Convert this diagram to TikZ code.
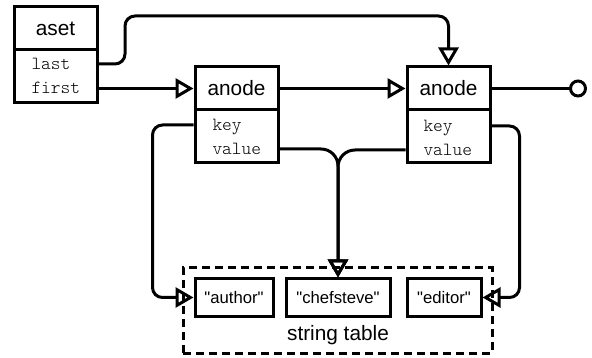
\documentclass[tikz,border=0pt]{standalone}
\usepackage{fontspec}
\setmainfont{Liberation Sans}
\newfontfamily\strfont{Liberation Sans}
\newfontfamily\codefont{Latin Modern Mono Light}
\usetikzlibrary{arrows.meta}

\begin{document}
\begin{tikzpicture}[x=1pt, y=-1pt, line width=3pt,
  head/.style={draw, inner sep=0pt, minimum width=83pt, minimum height=43pt, font=\fontsize{20.8}{24}\selectfont},
  body/.style={draw, inner sep=0pt, minimum width=83pt, minimum height=53pt},
  row/.style={anchor=west, inner sep=0pt, text height=11pt, text depth=0pt, font=\codefont\fontsize{18.5}{20}\selectfont},
  str/.style={draw, inner sep=0pt, minimum height=37pt, font=\strfont\fontsize{16.7}{20}\selectfont},
  link/.style={rounded corners=10pt},
  ptr/.style={-{Triangle[open, length=18pt, width=20pt]}}]
\useasboundingbox (0,0) rectangle (592,358);

% the set and its two nodes
\node[head] (aset) at (55.5,28.5) {aset};
\node[body] (asetb) at (55.5,76.5) {};
\node[row] (asetlast) at (30,64) {last};
\node[row] (asetfirst) at (30,88.5) {first};

\node[head] (a1) at (236.5,88.5) {anode};
\node[body] (a1b) at (236.5,136.5) {};
\node[row] (a1key) at (211,125) {key};
\node[row] (a1value) at (211,149) {value};

\node[head] (a2) at (448.5,88.5) {anode};
\node[body] (a2b) at (448.5,136.5) {};
\node[row] (a2key) at (422,126) {key};
\node[row] (a2value) at (422,150) {value};

% string table
\node[draw, dash pattern=on 8pt off 5pt, minimum width=309pt, minimum height=85pt] (strtab) at (337.5,310.5) {};
\node[font=\fontsize{20.8}{24}\selectfont] at (338,335) {string table};
\node[str, minimum width=78pt] (author) at (234,297.5) {"author"};
\node[str, minimum width=104pt] (chef) at (338,297.5) {"chefsteve"};
\node[str, minimum width=74pt] (editor) at (444,297.5) {"editor"};

% pointers
\coordinate (bend) at (125,16);
\coordinate (nil) at (587,88.5);
\draw[link, ptr] (asetb.east |- asetlast) -| (bend) -| (a2.north);
\draw[ptr] (asetb.east |- asetfirst) -- (a1.west);
\draw[ptr] (a1.east) -- (a2.west);
\draw[-{Circle[open, length=18pt]}] (a2.east) -- (nil);

\draw[link, ptr] (a1b.west |- a1key) -- ++(-41,0) |- (author.west);
\draw[link, ptr] (a2b.east |- a2key) -- ++(28,0) |- (editor.east);
\draw[rounded corners=17pt, ptr] (a1b.east |- a1value) -| (chef.north);
\draw[rounded corners=17pt, ptr] (a2b.west |- a2value) -| (chef.north);

\end{tikzpicture}
\end{document}
